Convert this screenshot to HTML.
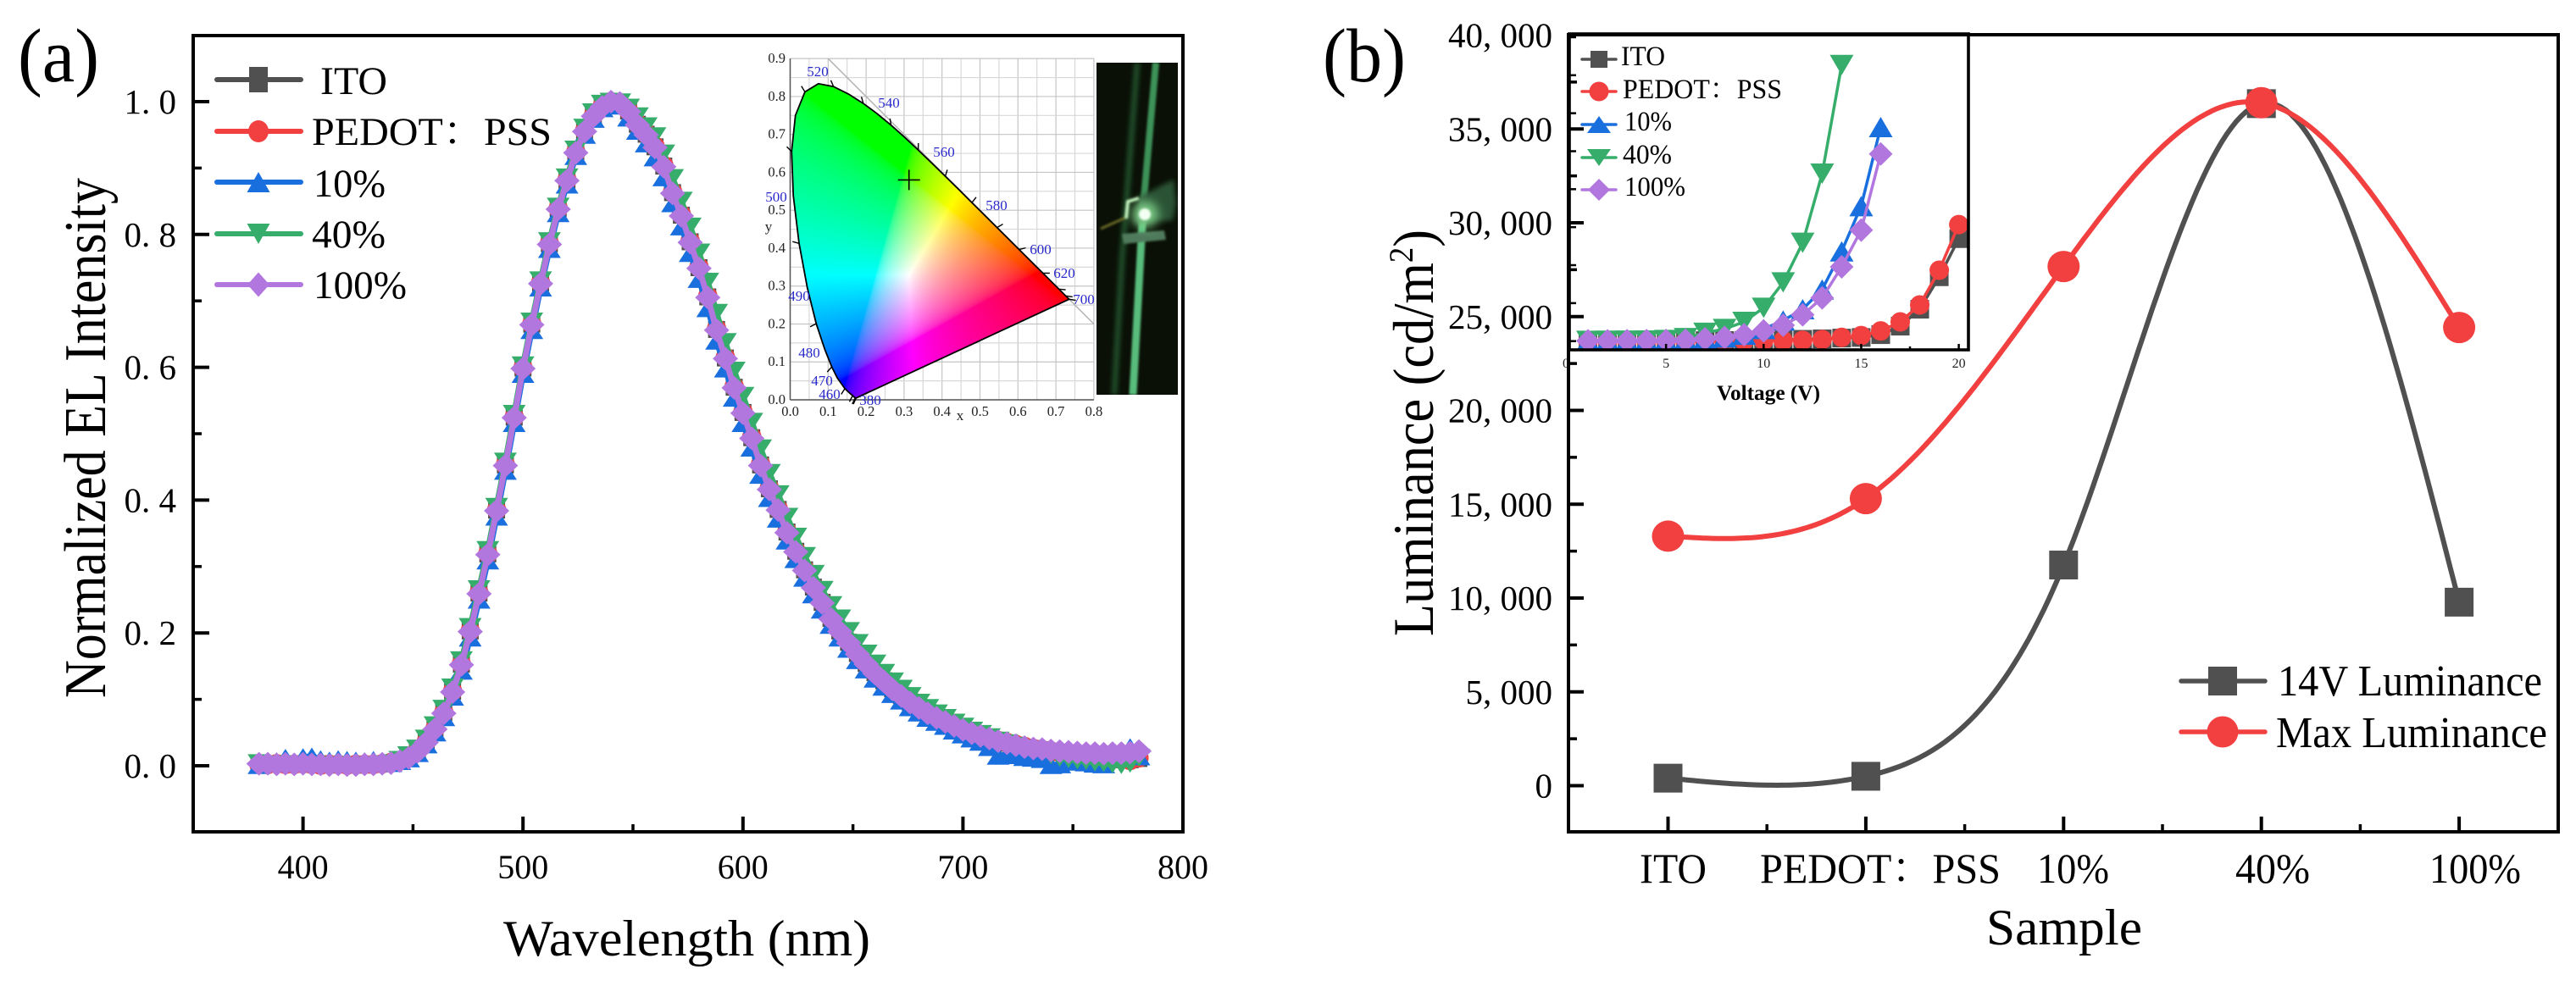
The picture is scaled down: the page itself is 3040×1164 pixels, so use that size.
<!DOCTYPE html>
<html lang="en">
<head>
<meta charset="utf-8">
<title>EL spectra and luminance charts</title>
<style>
html,body{margin:0;padding:0;background:#fff;width:3040px;height:1164px;overflow:hidden}
svg{display:block}
text{font-family:"Liberation Serif","Noto Serif CJK SC",serif;fill:#000}
</style>
</head>
<body>
<svg id="chart" xmlns="http://www.w3.org/2000/svg" width="3040" height="1164" viewBox="0 0 3040 1164">
  <defs>
    <clipPath id="inset-clip"><rect x="1852" y="40" width="471" height="373"/></clipPath>
    <clipPath id="photo-clip"><rect x="1294" y="74" width="96" height="392"/></clipPath>
    <filter id="blur1" x="-50%" y="-50%" width="200%" height="200%"><feGaussianBlur stdDeviation="1.2"/></filter>
    <filter id="blur3" x="-50%" y="-50%" width="200%" height="200%"><feGaussianBlur stdDeviation="3"/></filter>
    <filter id="blur6" x="-80%" y="-80%" width="260%" height="260%"><feGaussianBlur stdDeviation="6"/></filter>
  </defs>

  <g id="panel-a">
    <text x="21" y="96" font-size="90" textLength="96" lengthAdjust="spacingAndGlyphs">(a)</text>
    <g id="a-series"></g>
    <g id="a-axes"></g>
    <text transform="translate(124,824) rotate(-90)" font-size="70" textLength="614" lengthAdjust="spacingAndGlyphs">Normalized EL Intensity</text>
    <text x="594" y="1128" font-size="60" textLength="433" lengthAdjust="spacingAndGlyphs">Wavelength (nm)</text>
    <g id="a-legend"></g>
    <text x="378" y="111" font-size="47" textLength="79" lengthAdjust="spacingAndGlyphs">ITO</text>
    <text x="368" y="171" font-size="47" textLength="283" lengthAdjust="spacingAndGlyphs">PEDOT：PSS</text>
    <text x="370" y="232" font-size="47" textLength="85" lengthAdjust="spacingAndGlyphs">10%</text>
    <text x="368" y="292" font-size="47" textLength="87" lengthAdjust="spacingAndGlyphs">40%</text>
    <text x="370" y="352" font-size="47" textLength="110" lengthAdjust="spacingAndGlyphs">100%</text>
    <g id="cie"></g>
    <g clip-path="url(#photo-clip)">
      <rect x="1294" y="74" width="96" height="392" fill="#0a1006"/>
      <path d="M1342 74 L1324 307 L1315 466" stroke="#24552f" stroke-width="6" fill="none" filter="url(#blur3)"/>
      <path d="M1364 74 L1349 246" stroke="#3e9259" stroke-width="8" fill="none" filter="url(#blur1)"/>
      <path d="M1349 246 L1337 466" stroke="#58bd7c" stroke-width="9" fill="none" filter="url(#blur1)"/>
      <path d="M1299 270 L1328 257" stroke="#6b6a28" stroke-width="3" fill="none" filter="url(#blur1)"/>
      <path d="M1324 276 L1374 272 L1376 283 L1326 288 Z" fill="#4f7a5c" filter="url(#blur1)"/>
      <path d="M1345 232 L1385 212 L1388 240 L1384 260 L1340 264 Z" fill="#2c5234" filter="url(#blur3)"/>
      <path d="M1344 234 L1331 238 L1329 258" fill="none" stroke="#c4f0be" stroke-width="4" filter="url(#blur1)"/>
      <circle cx="1351" cy="253" r="16" fill="#8fe89a" opacity="0.8" filter="url(#blur6)"/>
      <circle cx="1351" cy="253" r="7" fill="#f2fff2" filter="url(#blur1)"/>
    </g>
  </g>

  <g id="panel-b">
    <text x="1561" y="96" font-size="90" textLength="98" lengthAdjust="spacingAndGlyphs">(b)</text>
    <g id="b-series"></g>
    <g id="inset"></g>
    <g id="b-axes"></g>
    <text transform="translate(1691,751) rotate(-90)" font-size="68" textLength="480" lengthAdjust="spacingAndGlyphs">Luminance (cd/m<tspan font-size="40" dy="-24">2</tspan><tspan dy="24">)</tspan></text>
    <text x="2344" y="1115" font-size="60" textLength="184" lengthAdjust="spacingAndGlyphs">Sample</text>
    <text x="1935" y="1042" font-size="50" textLength="79" lengthAdjust="spacingAndGlyphs">ITO</text>
    <text x="2077" y="1042" font-size="50" textLength="284" lengthAdjust="spacingAndGlyphs">PEDOT：PSS</text>
    <text x="2404" y="1042" font-size="50" textLength="85" lengthAdjust="spacingAndGlyphs">10%</text>
    <text x="2638" y="1042" font-size="50" textLength="88" lengthAdjust="spacingAndGlyphs">40%</text>
    <text x="2867" y="1042" font-size="50" textLength="108" lengthAdjust="spacingAndGlyphs">100%</text>
    <g id="b-legend"></g>
    <text x="2688" y="821" font-size="52" textLength="312" lengthAdjust="spacingAndGlyphs">14V Luminance</text>
    <text x="2686" y="882" font-size="52" textLength="320" lengthAdjust="spacingAndGlyphs">Max Luminance</text>
    <g id="inset-legend"></g>
    <text x="1913" y="77" font-size="33" textLength="52" lengthAdjust="spacingAndGlyphs">ITO</text>
    <text x="1915" y="116" font-size="33" textLength="188" lengthAdjust="spacingAndGlyphs">PEDOT：PSS</text>
    <text x="1917" y="154" font-size="33" textLength="56" lengthAdjust="spacingAndGlyphs">10%</text>
    <text x="1915" y="193" font-size="33" textLength="58" lengthAdjust="spacingAndGlyphs">40%</text>
    <text x="1917" y="231" font-size="33" textLength="72" lengthAdjust="spacingAndGlyphs">100%</text>
    <text x="2026" y="472" font-size="25" font-weight="bold" textLength="122" lengthAdjust="spacingAndGlyphs">Voltage (V)</text>
  </g>
</svg>

<script>
/* ---------- Panel (a): EL spectra ---------- */
const wavelengthStart = 380;
const wavelengthStep = 4;
const specIto = [
 .002,.003,.003,.002,.003,.002,.002,.003,.001,.002,
 .002,.001,.001,.002,.003,.004,.008,.013,.022,.036,
 .056,.080,.112,.153,.203,.260,.319,.385,.453,.525,
 .599,.665,.727,.786,.839,.882,.923,.956,.979,.993,
 1.0,.998,.986,.966,.951,.932,.903,.863,.829,.789,
 .750,.706,.657,.614,.570,.532,.494,.453,.417,.386,
 .352,.323,.295,.269,.246,.222,.203,.186,.169,.154,
 .140,.128,.116,.106,.096,.088,.080,.073,.067,.061,
 .055,.050,.046,.041,.037,.034,.031,.028,.026,.024,
 .022,.020,.018,.016,.014,.012,.011,.010,.009,.009,
 .011];
const specPedot = [
 .002,.002,.003,.002,.002,.003,.002,.001,.002,.002,
 .001,.002,.002,.002,.003,.005,.008,.013,.022,.036,
 .056,.080,.112,.153,.203,.260,.319,.385,.453,.525,
 .599,.665,.727,.786,.839,.882,.924,.956,.979,.993,
 1.0,.998,.986,.967,.952,.933,.904,.864,.830,.790,
 .751,.707,.658,.615,.571,.533,.495,.454,.418,.387,
 .353,.324,.296,.270,.247,.223,.204,.187,.170,.155,
 .141,.129,.117,.107,.097,.089,.081,.074,.068,.062,
 .056,.050,.046,.042,.038,.035,.032,.029,.026,.024,
 .022,.020,.018,.016,.014,.013,.011,.010,.010,.008,
 .012];
const spec10 = [
 .001,.005,.007,.012,.006,.013,.014,.010,.008,.010,
 .009,.008,.007,.009,.005,.004,.007,.011,.019,.032,
 .050,.073,.104,.143,.193,.250,.309,.375,.444,.516,
 .590,.656,.720,.778,.832,.875,.918,.950,.974,.990,
 .999,.994,.976,.956,.937,.916,.886,.847,.812,.772,
 .733,.689,.640,.598,.554,.516,.479,.438,.403,.372,
 .339,.311,.283,.258,.235,.212,.193,.176,.159,.145,
 .131,.119,.108,.098,.088,.080,.072,.066,.060,.053,
 .047,.041,.036,.028,.015,.017,.016,.013,.012,.010,
 .001,.002,.007,.006,.005,.003,.002,.022,.012,.028,
 .014];
const spec40 = [
 .004,.002,.001,.002,.001,.001,.000,.001,.000,.001,
 .000,.000,.001,.001,.002,.004,.009,.016,.026,.041,
 .061,.086,.118,.159,.209,.266,.325,.390,.458,.530,
 .603,.669,.731,.790,.842,.886,.928,.961,.984,.997,
 1.0,.999,.991,.978,.963,.948,.922,.885,.851,.812,
 .773,.729,.682,.638,.595,.557,.518,.478,.441,.409,
 .375,.345,.316,.289,.265,.242,.222,.203,.185,.169,
 .154,.140,.127,.116,.105,.095,.087,.079,.072,.065,
 .059,.053,.048,.043,.038,.034,.030,.026,.023,.020,
 .016,.012,.010,.008,.007,.005,.004,.002,.001,.003,
 .012];
const spec100 = [
 .003,.003,.002,.003,.002,.003,.002,.002,.001,.002,
 .001,.001,.002,.002,.003,.004,.007,.012,.021,.035,
 .055,.079,.111,.152,.202,.259,.318,.384,.452,.524,
 .598,.664,.726,.785,.838,.881,.923,.955,.978,.992,
 1.0,.998,.985,.965,.950,.931,.902,.862,.828,.788,
 .749,.705,.656,.613,.569,.531,.493,.452,.416,.385,
 .351,.322,.294,.268,.245,.221,.202,.185,.168,.153,
 .139,.127,.115,.105,.095,.087,.079,.072,.066,.060,
 .054,.049,.045,.041,.037,.034,.031,.028,.026,.025,
 .023,.022,.021,.020,.019,.019,.018,.019,.019,.020,
 .022];
const aXTicks = [400,500,600,700,800];
const aXMinor = [450,550,650,750];
const aYTicks = [0,0.2,0.4,0.6,0.8,1.0];
const aYLabels = ['0. 0','0. 2','0. 4','0. 6','0. 8','1. 0'];
const aYMinor = [0.1,0.3,0.5,0.7,0.9];

/* ---------- Panel (b): luminance ---------- */
const sampleNames = ['ITO','PEDOT：PSS','10%','40%','100%'];
const lum14V = [400,500,11760,36350,9780];
const lumMax = [13300,15300,27670,36400,24420];
const bYTicks = [0,5000,10000,15000,20000,25000,30000,35000,40000];
const bYLabels = ['0','5, 000','10, 000','15, 000','20, 000','25, 000','30, 000','35, 000','40, 000'];
const bYMinor = [2500,7500,12500,17500,22500,27500,32500,37500];

/* ---------- Inset: luminance vs voltage ---------- */
const voltageIto = [1,2,3,4,5,6,7,8,9,10,11,12,13,14,15,16,17,18,19,20];
const lumIto = [30,30,35,40,45,50,60,80,100,130,180,240,300,400,480,850,1970,4200,8470,13490];
const lumPedot = [-60,-50,-40,-30,-30,-20,-20,-10,50,60,80,110,220,500,740,1340,2530,4760,9330,15340];
const voltage10 = [1,2,3,4,5,6,7,8,9,10,11,12,13,14,15,16];
const lum10 = [20,30,40,50,60,110,300,480,850,1600,2710,4200,6800,11820,17770,28180];
const voltage40 = [1,2,3,4,5,6,7,8,9,10,11,12,13,14];
const lum40 = [40,50,60,80,150,400,1100,1600,2530,4390,7730,12940,22040,36350];
const voltage100 = [1,2,3,4,5,6,7,8,9,10,11,12,13,14,15,16];
const lum100 = [30,40,50,60,80,110,300,480,850,1340,2080,3460,5690,9780,14610,24640];
const insetXTicks = [5,10,15,20];
const insetYTicks = [0,5000,10000,15000,20000,25000,30000,35000,40000];

/* ---------- CIE inset ---------- */
const locusX = [.1741,.1733,.1714,.1689,.1644,.1566,.1440,.1241,.1096,.0913,.0687,.0454,.0235,.0082,.0039,.0139,.0389,.0743,.1142,.1547,.1929,.2296,.2658,.3016,.3373,.3731,.4087,.4441,.4788,.5125,.5448,.5752,.6029,.6270,.6658,.6915,.7079,.7190,.7260,.7334,.7347];
const locusY = [.0050,.0048,.0051,.0069,.0109,.0177,.0297,.0578,.0868,.1327,.2007,.2950,.4127,.5384,.6548,.7502,.8120,.8338,.8262,.8059,.7816,.7543,.7243,.6923,.6589,.6245,.5896,.5547,.5202,.4866,.4544,.4242,.3965,.3725,.3340,.3083,.2920,.2809,.2740,.2666,.2653];
const cieXTicks = [0,0.1,0.2,0.3,0.4,0.5,0.6,0.7,0.8];
const cieYTicks = [0,0.1,0.2,0.3,0.4,0.5,0.6,0.7,0.8,0.9];
const colourPointX = 0.313;
const colourPointY = 0.58;

const COLORS = {ito:'#505050',pedot:'#f24040',s10:'#1a6fdf',s40:'#37ad6b',s100:'#b177de'};
const NS = 'http://www.w3.org/2000/svg';

/* axis functions */
const ax = w => 1396 - (800 - w) * 2.596;
const ay = v => 904 - 784 * v;
const bx = i => 1968.5 + 233.4 * i;
const by = v => 927.5 - 0.02215 * v;
const ix = v => 1851 + 23.03 * v;
const iy = v => 402.7 - 0.008968 * v;
const cx = v => 932.5 + 448 * v;
const cy = v => 472 - 447.6 * v;

function make(parent, tag, attrs){
  const node = document.createElementNS(NS, tag);
  for (const k in attrs) node.setAttribute(k, attrs[k]);
  parent.appendChild(node);
  return node;
}
function line(parent, x1, y1, x2, y2, stroke, width, name){
  const node = make(parent, 'line', {x1:x1, y1:y1, x2:x2, y2:y2, stroke:stroke, 'stroke-width':width});
  
  
  return node;
}
function label(parent, str, x, y, size, anchor, fill, name){
  const node = make(parent, 'text', {x:x, y:y, 'font-size':size, 'text-anchor':anchor, fill:fill});
  node.style.fill = fill;
  node.textContent = str;
  
  
  return node;
}
function marker(parent, shape, x, y, w, h, color, name){
  let node;
  if (shape === 'square') node = make(parent, 'rect', {x:x-w/2, y:y-h/2, width:w, height:h, fill:color});
  else if (shape === 'circle') node = make(parent, 'ellipse', {cx:x, cy:y, rx:w/2, ry:h/2, fill:color});
  else if (shape === 'up') node = make(parent, 'polygon', {points:`${x},${y-h/2} ${x+w/2},${y+h/2} ${x-w/2},${y+h/2}`, fill:color});
  else if (shape === 'down') node = make(parent, 'polygon', {points:`${x},${y+h/2} ${x+w/2},${y-h/2} ${x-w/2},${y-h/2}`, fill:color});
  else node = make(parent, 'polygon', {points:`${x},${y-h/2} ${x+w/2},${y} ${x},${y+h/2} ${x-w/2},${y}`, fill:color});
  
  
  return node;
}
function polyline(parent, xs, ys, color, width, name){
  const pts = xs.map((x, i) => x.toFixed(1) + ',' + ys[i].toFixed(1)).join(' ');
  const node = make(parent, 'polyline', {points:pts, fill:'none', stroke:color, 'stroke-width':width, 'stroke-linejoin':'round'});
  
  
  return node;
}
function legendEntry(parent, x1, x2, xm, y, shape, w, h, color, lw, name){
  const node = make(parent, 'g', {});
  
  
  const seg = make(node, 'line', {x1:x1, y1:y, x2:x2, y2:y, stroke:color, 'stroke-width':lw, 'stroke-linecap':'round'});
  
  
  marker(node, shape, xm, y, w, h, color, name + '-marker');
}
/* natural cubic spline through the data, sampled along index space */
function spline(values){
  const n = values.length, m = new Array(n).fill(0), c = new Array(n).fill(0), d = new Array(n).fill(0);
  for (let i = 1; i < n - 1; i++){
    const rhs = 6 * (values[i+1] - 2 * values[i] + values[i-1]);
    const den = 4 - c[i-1];
    c[i] = 1 / den;
    d[i] = (rhs - d[i-1]) / den;
  }
  for (let i = n - 2; i > 0; i--) m[i] = d[i] - c[i] * m[i+1];
  const out = [];
  for (let i = 0; i < n - 1; i++){
    for (let k = 0; k < 40; k++){
      const t = k / 40, a = 1 - t;
      const v = a * values[i] + t * values[i+1] + ((a*a*a - a) * m[i] + (t*t*t - t) * m[i+1]) / 6;
      out.push([i + t, v]);
    }
  }
  out.push([n - 1, values[n-1]]);
  return out;
}

/* ----- Panel a series ----- */
const aSeries = document.getElementById('a-series');
const aDefs = [
  {id:'ito', vals:specIto, shape:'square', w:20, h:20, color:COLORS.ito},
  {id:'pedot', vals:specPedot, shape:'circle', w:23, h:23, color:COLORS.pedot},
  {id:'10', vals:spec10, shape:'up', w:27, h:21, color:COLORS.s10},
  {id:'40', vals:spec40, shape:'down', w:27, h:21, color:COLORS.s40},
  {id:'100', vals:spec100, shape:'diamond', w:30, h:28, color:COLORS.s100}
];
aDefs.forEach(s => {
  const g = make(aSeries, 'g', {});
  
  
  const xs = s.vals.map((_, i) => ax(wavelengthStart + i * wavelengthStep));
  const ys = s.vals.map(v => ay(v));
  polyline(g, xs, ys, s.color, 7, 'spectrum-line-' + s.id);
  xs.forEach((x, i) => marker(g, s.shape, x, ys[i], s.w, s.h, s.color, 'spectrum-point'));
});

/* ----- Panel a axes ----- */
const aAxes = document.getElementById('a-axes');
const aFrame = make(aAxes, 'rect', {x:228, y:42, width:1168, height:940, fill:'none', stroke:'#000', 'stroke-width':4});


aXTicks.forEach(t => {
  if (t < 800) line(aAxes, ax(t), 982, ax(t), 964, '#000', 4, 'x-tick');
  label(aAxes, String(t), ax(t), 1037, 40, 'middle', '#000', 'x-tick-label');
});
aXMinor.forEach(t => line(aAxes, ax(t), 982, ax(t), 973, '#000', 3.5, 'x-minor-tick'));
aYTicks.forEach((t, i) => {
  line(aAxes, 228, ay(t), 247, ay(t), '#000', 4, 'y-tick');
  label(aAxes, aYLabels[i], 208, ay(t) + 14, 41, 'end', '#000', 'y-tick-label');
});
aYMinor.forEach(t => line(aAxes, 228, ay(t), 238, ay(t), '#000', 3.5, 'y-minor-tick'));

/* ----- Panel a legend ----- */
const aLegend = document.getElementById('a-legend');
legendEntry(aLegend, 256, 355, 305, 94, 'square', 22, 30, COLORS.ito, 6, 'legend-entry-ito');
legendEntry(aLegend, 256, 355, 305, 155, 'circle', 24, 26, COLORS.pedot, 6, 'legend-entry-pedot');
legendEntry(aLegend, 256, 355, 305, 215, 'up', 27, 24, COLORS.s10, 6, 'legend-entry-10');
legendEntry(aLegend, 256, 355, 305, 276, 'down', 27, 24, COLORS.s40, 6, 'legend-entry-40');
legendEntry(aLegend, 256, 355, 305, 336, 'diamond', 26, 29, COLORS.s100, 6, 'legend-entry-100');

/* ----- CIE diagram ----- */
const cie = document.getElementById('cie');
for (let k = 0; k <= 16; k++){
  const v = k * 0.05;
  line(cie, cx(v), cy(0), cx(v), cy(0.9), k % 2 ? '#d8d8d8' : '#c4c4c4', 1.2, 'cie-grid-vertical');
}
for (let k = 0; k <= 18; k++){
  const v = k * 0.05;
  line(cie, cx(0), cy(v), cx(0.8), cy(v), k % 2 ? '#d8d8d8' : '#c4c4c4', 1.2, 'cie-grid-horizontal');
}
line(cie, cx(0.1), cy(0.9), cx(0.8), cy(0.2), '#b4b4b4', 1.5, 'cie-boundary-diagonal');
line(cie, cx(0), cy(0), cx(0.8), cy(0), '#555', 1.5, 'cie-x-axis');
line(cie, cx(0), cy(0), cx(0), cy(0.9), '#555', 1.5, 'cie-y-axis');

const fo = make(cie, 'foreignObject', {x:932, y:69, width:360, height:404});


const canvas = document.createElement('canvas');
canvas.width = 360;
canvas.height = 404;
canvas.style.display = 'block';


fo.appendChild(canvas);
(function(){
  const ctx = canvas.getContext('2d');
  const img = ctx.createImageData(360, 404);
  const px = locusX.map(v => cx(v) - 932);
  const py = locusY.map(v => cy(v) - 69);
  function inside(x, y){
    let hit = false;
    for (let i = 0, j = px.length - 1; i < px.length; j = i++){
      if ((py[i] > y) !== (py[j] > y) && x < (px[j] - px[i]) * (y - py[i]) / (py[j] - py[i]) + px[i]) hit = !hit;
    }
    return hit;
  }
  const gamma = c => c <= 0.0031308 ? 12.92 * c : 1.055 * Math.pow(c, 1/2.4) - 0.055;
  for (let j = 0; j < 404; j++){
    for (let i = 0; i < 360; i++){
      if (!inside(i + 0.5, j + 0.5)) continue;
      const xv = (i + 0.5 + 932 - 932.5) / 448;
      const yv = Math.max(0.001, (472 - (j + 0.5 + 69)) / 447.6);
      const X = xv / yv, Y = 1, Z = (1 - xv - yv) / yv;
      let r = 3.2406*X - 1.5372*Y - 0.4986*Z;
      let g = -0.9689*X + 1.8758*Y + 0.0415*Z;
      let b = 0.0557*X - 0.2040*Y + 1.0570*Z;
      r = Math.max(r, 0); g = Math.max(g, 0); b = Math.max(b, 0);
      const mx = Math.max(r, g, b) || 1;
      const o = (j * 360 + i) * 4;
      img.data[o] = 255 * gamma(r / mx);
      img.data[o+1] = 255 * gamma(g / mx);
      img.data[o+2] = 255 * gamma(b / mx);
      img.data[o+3] = 255;
    }
  }
  ctx.putImageData(img, 0, 0);
})();

const outlinePts = locusX.map((v, i) => cx(v).toFixed(1) + ',' + cy(locusY[i]).toFixed(1)).join(' ');
const outline = make(cie, 'polygon', {points:outlinePts, fill:'none', stroke:'#000', 'stroke-width':1.8});


locusX.forEach((v, i) => {
  if (i % 2) return;
  const dx = v - 0.33, dy = locusY[i] - 0.33, len = Math.hypot(dx, dy);
  line(cie, cx(v), cy(locusY[i]), cx(v + dx / len * 0.018), cy(locusY[i] + dy / len * 0.018), '#000', 1.4, 'cie-wavelength-tick');
});
cieXTicks.forEach(t => label(cie, t.toFixed(1), cx(t), 491, 16.5, 'middle', '#222', 'cie-x-tick-label'));
cieYTicks.forEach(t => label(cie, t.toFixed(1), 927, cy(t) + 5, 16.5, 'end', '#222', 'cie-y-tick-label'));
label(cie, 'x', 1133, 496, 17, 'middle', '#222', 'cie-x-axis-title');
label(cie, 'y', 907, 273, 17, 'middle', '#222', 'cie-y-axis-title');
const waveLabels = [['520',965,90],['540',1049,127],['560',1114,185],['580',1176,248],['600',1228,300],['620',1256,328],['700',1279,359],['500',916,238],['490',943,355],['480',955,422],['470',970,455],['460',979,471],['380',1027,478]];
waveLabels.forEach(w => label(cie, w[0], w[1], w[2], 17, 'middle', '#2a2acb', 'cie-wavelength-label'));
line(cie, cx(colourPointX) - 13, cy(colourPointY), cx(colourPointX) + 13, cy(colourPointY), '#000', 1.6, 'cie-point-horizontal');
line(cie, cx(colourPointX), cy(colourPointY) - 12, cx(colourPointX), cy(colourPointY) + 12, '#000', 1.6, 'cie-point-vertical');

/* ----- Panel b series ----- */
const bSeries = document.getElementById('b-series');
[[lum14V, COLORS.ito, 'square', 34, 34, '14v'], [lumMax, COLORS.pedot, 'circle', 38, 37, 'max']].forEach(s => {
  const curve = spline(s[0]);
  polyline(bSeries, curve.map(p => bx(p[0])), curve.map(p => by(p[1])), s[1], 6, 'curve-' + s[5]);
});
[[lum14V, COLORS.ito, 'square', 34, 34, '14v'], [lumMax, COLORS.pedot, 'circle', 38, 37, 'max']].forEach(s => {
  s[0].forEach((v, i) => marker(bSeries, s[2], bx(i), by(v), s[3], s[4], s[1], 'point-' + s[5]));
});

/* ----- Inset ----- */
const inset = document.getElementById('inset');
const insetBg = make(inset, 'rect', {x:1852, y:40, width:471, height:373, fill:'#fff'});


const insetPlot = make(inset, 'g', {'clip-path':'url(#inset-clip)'});


const insetDefs = [
  {id:'ito', xs:voltageIto, ys:lumIto, shape:'square', w:22, h:22, color:COLORS.ito},
  {id:'pedot', xs:voltageIto, ys:lumPedot, shape:'circle', w:23, h:23, color:COLORS.pedot},
  {id:'10', xs:voltage10, ys:lum10, shape:'up', w:28, h:24, color:COLORS.s10},
  {id:'40', xs:voltage40, ys:lum40, shape:'down', w:28, h:24, color:COLORS.s40},
  {id:'100', xs:voltage100, ys:lum100, shape:'diamond', w:28, h:28, color:COLORS.s100}
];
insetDefs.forEach(s => {
  const g = make(insetPlot, 'g', {});
  
  
  const xs = s.xs.map(ix), ys = s.ys.map(iy);
  polyline(g, xs, ys, s.color, 3.5, 'inset-line-' + s.id);
  xs.forEach((x, i) => marker(g, s.shape, x, ys[i], s.w, s.h, s.color, 'inset-point'));
});
const insetFrame = make(inset, 'rect', {x:1852, y:40, width:471, height:373, fill:'none', stroke:'#000', 'stroke-width':3.6});


insetXTicks.forEach(t => {
  line(inset, ix(t), 413, ix(t), 406, '#000', 2.5, 'inset-x-tick');
  label(inset, String(t), ix(t), 434, 16, 'middle', '#222', 'inset-x-tick-label');
});
label(inset, '0', 1848, 434, 16, 'middle', '#222', 'inset-x-tick-label');
line(inset, ix(17.5), 413, ix(17.5), 409, '#000', 2.5, 'inset-x-minor-tick');
insetYTicks.forEach(t => line(inset, 1852, iy(t), 1860, iy(t), '#000', 2.5, 'inset-y-tick'));

/* ----- Panel b axes ----- */
const bAxes = document.getElementById('b-axes');
const bFrame = make(bAxes, 'rect', {x:1851, y:41, width:1168, height:941, fill:'none', stroke:'#000', 'stroke-width':4});


bYTicks.forEach((t, i) => {
  if (t < 40000) line(bAxes, 1851, by(t), 1869, by(t), '#000', 4, 'y-tick');
  label(bAxes, bYLabels[i], 1832, by(t) + 14, 41, 'end', '#000', 'y-tick-label');
});
bYMinor.forEach(t => line(bAxes, 1851, by(t), 1861, by(t), '#000', 3.5, 'y-minor-tick'));
sampleNames.forEach((n, i) => {
  line(bAxes, bx(i), 982, bx(i), 964, '#000', 4, 'x-tick-' + i);
  if (i < sampleNames.length - 1) line(bAxes, bx(i + 0.5), 982, bx(i + 0.5), 973, '#000', 3.5, 'x-minor-tick');
});

/* ----- Panel b legends ----- */
const bLegend = document.getElementById('b-legend');
legendEntry(bLegend, 2574, 2673, 2623, 804, 'square', 34, 34, COLORS.ito, 5.5, 'legend-entry-14v');
legendEntry(bLegend, 2574, 2673, 2623, 864, 'circle', 37, 37, COLORS.pedot, 5.5, 'legend-entry-max');
const iLegend = document.getElementById('inset-legend');
legendEntry(iLegend, 1867, 1907, 1887, 70, 'square', 20, 20, COLORS.ito, 3.5, 'inset-legend-entry-ito');
legendEntry(iLegend, 1867, 1907, 1887, 108, 'circle', 23, 23, COLORS.pedot, 3.5, 'inset-legend-entry-pedot');
legendEntry(iLegend, 1867, 1907, 1887, 147, 'up', 28, 20, COLORS.s10, 3.5, 'inset-legend-entry-10');
legendEntry(iLegend, 1867, 1907, 1887, 186, 'down', 28, 20, COLORS.s40, 3.5, 'inset-legend-entry-40');
legendEntry(iLegend, 1867, 1907, 1887, 224, 'diamond', 26, 26, COLORS.s100, 3.5, 'inset-legend-entry-100');
</script>
</body>
</html>
